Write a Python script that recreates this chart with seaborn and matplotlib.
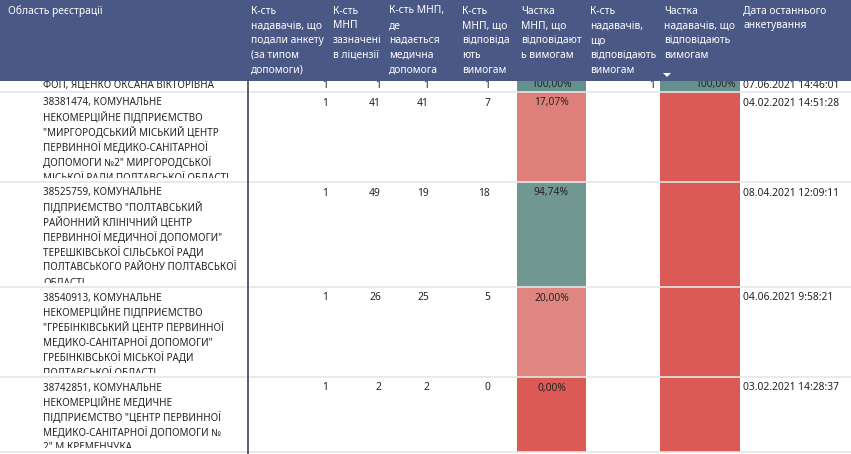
import matplotlib
matplotlib.use("Agg")
import matplotlib.pyplot as plt
from matplotlib.patches import Rectangle, Polygon
from matplotlib.transforms import Bbox, TransformedBbox
import numpy as np
import seaborn as sns

sns.set_style("white")
plt.rcParams['font.family'] = ['Noto Sans', 'DejaVu Sans']

# table data (top row is only partly visible under the header)
names = [
    "ФОП, ЯЦЕНКО ОКСАНА ВІКТОРІВНА",
    "38381474, КОМУНАЛЬНЕ\nНЕКОМЕРЦІЙНЕ ПІДПРИЄМСТВО\n\"МИРГОРОДСЬКИЙ МІСЬКИЙ ЦЕНТР\nПЕРВИННОЇ МЕДИКО-САНІТАРНОЇ\nДОПОМОГИ №2\" МИРГОРОДСЬКОЇ\nМІСЬКОЇ РАДИ ПОЛТАВСЬКОЇ ОБЛАСТІ",
    "38525759, КОМУНАЛЬНЕ\nПІДПРИЄМСТВО \"ПОЛТАВСЬКИЙ\nРАЙОННИЙ КЛІНІЧНИЙ ЦЕНТР\nПЕРВИННОЇ МЕДИЧНОЇ ДОПОМОГИ\"\nТЕРЕШКІВСЬКОЇ СІЛЬСЬКОЇ РАДИ\nПОЛТАВСЬКОГО РАЙОНУ ПОЛТАВСЬКОЇ\nОБЛАСТІ",
    "38540913, КОМУНАЛЬНЕ\nНЕКОМЕРЦІЙНЕ ПІДПРИЄМСТВО\n\"ГРЕБІНКІВСЬКИЙ ЦЕНТР ПЕРВИННОЇ\nМЕДИКО-САНІТАРНОЇ ДОПОМОГИ\"\nГРЕБІНКІВСЬКОЇ МІСЬКОЇ РАДИ\nПОЛТАВСЬКОЇ ОБЛАСТІ",
    "38742851, КОМУНАЛЬНЕ\nНЕКОМЕРЦІЙНЕ МЕДИЧНЕ\nПІДПРИЄМСТВО \"ЦЕНТР ПЕРВИННОЇ\nМЕДИКО-САНІТАРНОЇ ДОПОМОГИ №\n2\" М.КРЕМЕНЧУКА",
]
providers = [1, 1, 1, 1, 1]
mnp_licence = [1, 41, 49, 26, 2]
mnp_care = [1, 41, 19, 25, 2]
mnp_ok = [1, 7, 18, 5, 0]
share_mnp = [100.0, 17.07, 94.74, 20.0, 0.0]
providers_ok = [1, None, None, None, None]
share_providers = [100.0, None, None, None, None]
dates = ["07.06.2021 14:46:01", "04.02.2021 14:51:28", "08.04.2021 12:09:11",
         "04.06.2021 9:58:21", "03.02.2021 14:28:37"]

headers = [
    "Область реєстрації",
    "К-сть\nнадавачів, що\nподали анкету\n(за типом\nдопомоги)",
    "К-сть\nМНП\nзазначені\nв ліцензії",
    "К-сть МНП,\nде\nнадається\nмедична\nдопомога",
    "К-сть\nМНП, що\nвідповіда\nють\nвимогам",
    "Частка\nМНП, що\nвідповідают\nь вимогам",
    "К-сть\nнадавачів,\nщо\nвідповідають\nвимогам",
    "Частка\nнадавачів, що\nвідповідають\nвимогам",
    "Дата останнього\nанкетування",
]

# layout in pixels
W, H = 851, 454
head_h = 81
row_top = [74, 92, 182, 287, 377]
row_bot = [92, 182, 287, 377, 452]
head_x = [8, 251, 333, 389, 462, 521, 590, 664, 743]
num_right = [328, 381, 429, 490, None, 655, None]
cell5 = (517, 586)
cell7 = (660, 740)
line_h = 15.0

cmap = sns.blend_palette(["#DC5A55", "#E4C8C4", "#64918C"], as_cmap=True)

fig = plt.figure(figsize=(W / 100, H / 100), dpi=100)
ax = fig.add_axes([0, 0, 1, 1])
ax.set_xlim(0, W)
ax.set_ylim(H, 0)
ax.axis("off")

txt = "#252423"
fs = 7.4
fs_name = 7.1

for i in range(len(names)):
    t, b = row_top[i], row_bot[i]
    y0 = t + 11
    clip = TransformedBbox(Bbox([[0, t], [246, max(b - 4, y0 + 6)]]), ax.transData)
    # colour-scaled cells
    v = share_mnp[i]
    ax.add_patch(Rectangle((cell5[0], t), cell5[1] - cell5[0], b - t,
                           color=cmap(v / 100.0), lw=0, zorder=1))
    sp = share_providers[i]
    ax.add_patch(Rectangle((cell7[0], t), cell7[1] - cell7[0], b - t,
                           color=cmap(0 if sp is None else sp / 100.0), lw=0, zorder=1))
    # name, cut at the row bottom like the report does
    for k, ln in enumerate(names[i].split("\n")):
        tx = ax.text(43, y0 + k * line_h, ln, fontsize=fs_name, color=txt,
                     va="center", ha="left", zorder=2)
        tx.set_clip_box(clip)
        tx.set_clip_on(True)
    vals = [providers[i], mnp_licence[i], mnp_care[i], mnp_ok[i]]
    for j, val in enumerate(vals):
        ax.text(num_right[j], y0, str(val), fontsize=fs, color=txt,
                va="center", ha="right", zorder=2)
    ax.text(sum(cell5) / 2, y0, f"{v:.2f}%".replace(".", ","), fontsize=fs,
            color=txt, va="center", ha="center", zorder=2)
    if providers_ok[i] is not None:
        ax.text(num_right[5], y0, str(providers_ok[i]), fontsize=fs, color=txt,
                va="center", ha="right", zorder=2)
    if sp is not None:
        ax.text(cell7[1] - 4, y0, f"{sp:.2f}%".replace(".", ","), fontsize=fs,
                color=txt, va="center", ha="right", zorder=2)
    ax.text(head_x[8], y0, dates[i], fontsize=fs, color=txt,
            va="center", ha="left", zorder=2)
    # row separator
    ax.plot([0, W], [b, b], color="#E6E6E6", lw=1.2, zorder=3)

# vertical divider after the first column
ax.plot([248, 248], [head_h, H], color="#3F4656", lw=1.2, zorder=4)

# header band
ax.add_patch(Rectangle((0, 0), W, head_h, color="#4A5886", lw=0, zorder=5))
for x, h in zip(head_x, headers):
    for k, ln in enumerate(h.split("\n")):
        ax.text(x, 11 + k * 14.8, ln, fontsize=fs, color="white",
                va="center", ha="left", zorder=6)
ax.add_patch(Polygon([[663, 73], [671, 73], [667, 77]], closed=True,
                     color="white", lw=0, zorder=6))

fig.savefig("out.png", dpi=100)
